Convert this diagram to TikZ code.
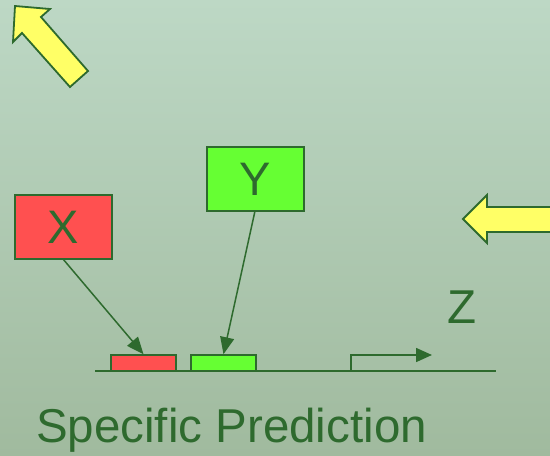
\documentclass[tikz,border=0pt]{standalone}
\usepackage{fontspec}
\setmainfont{Liberation Sans}
\usetikzlibrary{arrows.meta}
\definecolor{dkgreen}{HTML}{2E6A2E}
\definecolor{bgtop}{HTML}{BDD8C5}
\definecolor{bgbot}{HTML}{A0BA9E}
\definecolor{redfill}{HTML}{FF5050}
\definecolor{greenfill}{HTML}{66FF33}
\definecolor{arrowyellow}{HTML}{FFFF66}
\tikzset{
  labelbox/.style={draw=dkgreen, line width=1.6pt, inner sep=0pt, text=dkgreen, font=\fontsize{47}{47}\selectfont},
  site/.style={draw=dkgreen, line width=1.6pt},
  bigarrow/.style={draw=dkgreen, fill=arrowyellow, line width=1.8pt, line join=miter},
  conn/.style={draw=dkgreen, line width=1.5pt, -{Triangle[length=17pt,width=14pt]}},
  bigtext/.style={text=dkgreen, font=\fontsize{47.5}{47.5}\selectfont, inner sep=0pt}
}
\begin{document}
\begin{tikzpicture}[x=1pt,y=-1pt]
\shade[top color=bgtop, bottom color=bgbot] (0,0) rectangle (550,456);
\useasboundingbox (0,0) rectangle (550,456);
% yellow arrows
\path[bigarrow] (15,6) -- (50,9) -- (41,17) -- (88,71) -- (70,87) -- (22,33) -- (13,42) -- cycle;
\path[bigarrow] (463,219) -- (487,195) -- (487,207) -- (560,207) -- (560,232) -- (487,232) -- (487,243) -- cycle;
% boxes
\node[labelbox, fill=redfill, minimum width=97pt, minimum height=64pt] (X) at (63.5,227) {X};
\node[labelbox, fill=greenfill, minimum width=97pt, minimum height=64pt] (Y) at (255.5,179) {Y};
% baseline
\coordinate (L0) at (95,371);
\coordinate (L1) at (496,371);
\draw[site] (L0) -- (L1);
\node[site, fill=redfill, inner sep=0pt, minimum width=65pt, minimum height=16pt] (R) at (143.5,363) {};
\node[site, fill=greenfill, inner sep=0pt, minimum width=65pt, minimum height=16pt] (G) at (223.5,363) {};
% promoter
\coordinate (P0) at (351,371);
\coordinate (P1) at (351,355);
\coordinate (P2) at (432,355);
\draw[site, -{Triangle[length=16pt,width=14pt]}] (P0) -- (P1) -- (P2);
% connectors
\draw[conn] (63,259) -- (R.north);
\draw[conn] (255,211) -- (G.north);
% texts
\node[bigtext, anchor=base] (Z) at (462.5,323) {Z};
\node[bigtext, anchor=base west] (T) at (36,442) {Specific Prediction};
\end{tikzpicture}
\end{document}
